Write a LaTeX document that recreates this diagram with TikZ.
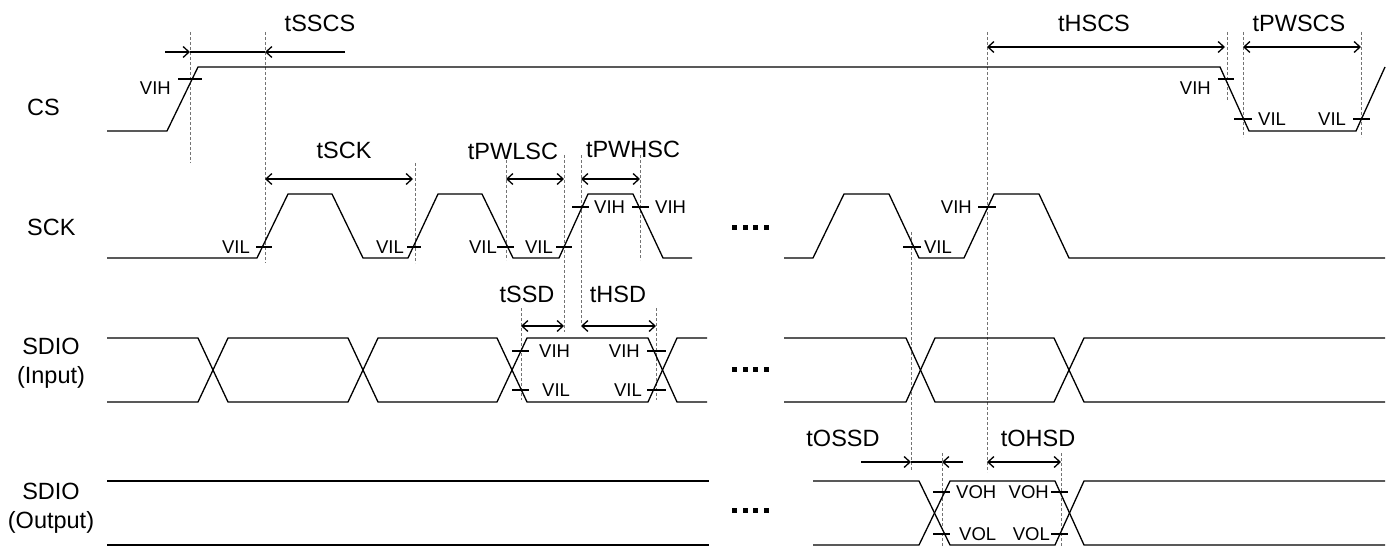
\documentclass[tikz,border=0pt]{standalone}
\usepackage{fontspec}
\setmainfont{Liberation Sans}
\usetikzlibrary{arrows.meta}
\begin{document}
\begin{tikzpicture}[x=1pt,y=-1pt,
        >={Straight Barb[length=6pt,width=11pt]},
        sig/.style={line width=1.3pt},
        guide/.style={black!55, line width=0.8pt, dash pattern=on 3pt off 2pt},
        lbl/.style={font=\fontsize{23.5}{29}\selectfont, inner sep=0pt},
        lvl/.style={font=\fontsize{18.5}{22}\selectfont, inner sep=0pt}]
        \useasboundingbox (0,0) rectangle (1392,548);

        % signal names
        \node[lbl, anchor=west] (cs) at (27,107) {CS};
        \node[lbl, anchor=west] (sck) at (27,227) {SCK};
        \node[lbl, align=center] (sdioin) at (51,363) {SDIO\\(Input)};
        \node[lbl, align=center] (sdioout) at (51,508) {SDIO\\(Output)};

        % guide lines
        \draw[guide] (190,32) -- (190,163);
        \draw[guide] (265,32) -- (265,263);
        \draw[guide] (415,163) -- (415,263);
        \draw[guide] (506,155) -- (506,260);
        \draw[guide] (564,155) -- (564,332);
        \draw[guide] (581,155) -- (581,323);
        \draw[guide] (640,155) -- (640,260);
        \draw[guide] (521,308) -- (521,400);
        \draw[guide] (656,308) -- (656,400);
        \draw[guide] (911,232) -- (911,470);
        \draw[guide] (942,453) -- (942,548);
        \draw[guide] (1061,453) -- (1061,548);
        \draw[guide] (987,32) -- (987,472);
        \draw[guide] (1227,32) -- (1227,100);
        \draw[guide] (1243,32) -- (1243,137);
        \draw[guide] (1361,32) -- (1361,137);

        % CS
        \draw[sig] (107,131) -- (167,131) -- (198,67) -- (1220,67) -- (1249,131) -- (1356,131) -- (1385,67);
        \draw[sig] (178,79) -- (202,79);
        \draw[sig] (1218,79) -- (1234,79);
        \draw[sig] (1234,119) -- (1252,119);
        \draw[sig] (1353,119) -- (1370,119);
        \node[lvl, anchor=east] (csvih) at (171,88) {VIH};
        \node[lvl, anchor=east] (csvihb) at (1211,88) {VIH};
        \node[lvl, anchor=west] (csvil) at (1258,119) {VIL};
        \node[lvl, anchor=west] (csvilb) at (1318,119) {VIL};

        % SCK
        \draw[sig] (107,258) -- (257,258) -- (288,194) -- (332,194) -- (363,258) -- (408,258) -- (438,194)
            -- (482,194) -- (513,258) -- (559,258) -- (588,194) -- (633,194) -- (663,258) -- (692,258);
        \draw[sig] (784,258) -- (813,258) -- (844,194) -- (889,194) -- (919,258) -- (964,258) -- (994,194)
            -- (1039,194) -- (1069,258) -- (1385,258);
        \draw[sig] (256,247) -- (272,247);
        \draw[sig] (407,247) -- (421,247);
        \draw[sig] (497,247) -- (514,247);
        \draw[sig] (556,247) -- (572,247);
        \draw[sig] (903,247) -- (921,247);
        \draw[sig] (572,207) -- (589,207);
        \draw[sig] (632,207) -- (649,207);
        \draw[sig] (978,207) -- (996,207);
        \node[lvl, anchor=east] (sckvil) at (250,247) {VIL};
        \node[lvl, anchor=east] (sckvilb) at (404,247) {VIL};
        \node[lvl, anchor=east] (sckvilc) at (497,247) {VIL};
        \node[lvl, anchor=east] (sckvild) at (553,247) {VIL};
        \node[lvl, anchor=east] (sckvile) at (952,247) {VIL};
        \node[lvl, anchor=west] (sckvih) at (594,207) {VIH};
        \node[lvl, anchor=west] (sckvihb) at (655,207) {VIH};
        \node[lvl, anchor=east] (sckvihc) at (972,207) {VIH};

        % SDIO (Input)
        \draw[sig] (107,338) -- (198,338) -- (228,402) -- (348,402) -- (378,338) -- (497,338) -- (527,402)
            -- (648,402) -- (677,338) -- (707,338);
        \draw[sig] (107,402) -- (198,402) -- (228,338) -- (348,338) -- (378,402) -- (497,402) -- (527,338)
            -- (648,338) -- (677,402) -- (707,402);
        \draw[sig] (784,338) -- (906,338) -- (935,402) -- (1054,402) -- (1084,338) -- (1385,338);
        \draw[sig] (784,402) -- (906,402) -- (935,338) -- (1054,338) -- (1084,402) -- (1385,402);
        \draw[sig] (512,351) -- (529,351);
        \draw[sig] (647,351) -- (666,351);
        \draw[sig] (512,390) -- (529,390);
        \draw[sig] (647,390) -- (666,390);
        \node[lvl, anchor=west] (invih) at (539,351) {VIH};
        \node[lvl, anchor=east] (invihb) at (640,351) {VIH};
        \node[lvl, anchor=west] (invil) at (542,390) {VIL};
        \node[lvl, anchor=east] (invilb) at (642,390) {VIL};

        % SDIO (Output)
        \draw[sig] (107,481) -- (709,481);
        \draw[sig] (107,545) -- (709,545);
        \draw[sig] (813,481) -- (919,481) -- (950,545) -- (1055,545) -- (1084,481) -- (1385,481);
        \draw[sig] (813,545) -- (919,545) -- (950,481) -- (1055,481) -- (1084,545) -- (1385,545);
        \draw[sig] (933,492) -- (950,492);
        \draw[sig] (1051,492) -- (1068,492);
        \draw[sig] (933,534) -- (950,534);
        \draw[sig] (1051,534) -- (1068,534);
        \node[lvl, anchor=west] (outvoh) at (956,492) {VOH};
        \node[lvl, anchor=east] (outvohb) at (1049,492) {VOH};
        \node[lvl, anchor=west] (outvol) at (959,534) {VOL};
        \node[lvl, anchor=east] (outvolb) at (1050,534) {VOL};

        % ....
        \foreach \y in {228,369,510}
            \foreach \i in {0,...,3}
                \fill (732+10.7*\i,\y-2.5) rectangle ++(5,5);

        % timings
        \draw[sig, ->] (165,52) -- (190,52);
        \draw[line width=2.3pt] (190,52) -- (265,52);
        \draw[sig, ->] (345,52) -- (265,52);
        \node[lbl] (tsscs) at (320,23) {tSSCS};

        \draw[sig, <->] (987,47) -- (1225,47);
        \node[lbl] (thscs) at (1094,23) {tHSCS};
        \draw[sig, <->] (1243,47) -- (1361,47);
        \node[lbl] (tpwscs) at (1299,23) {tPWSCS};

        \draw[sig, <->] (265,179) -- (413,179);
        \node[lbl] (tsck) at (344,150) {tSCK};
        \draw[sig, <->] (506,179) -- (564,179);
        \node[lbl] (tpwlsc) at (513,151) {tPWLSC};
        \draw[sig, <->] (581,179) -- (640,179);
        \node[lbl] (tpwhsc) at (633,149) {tPWHSC};

        \draw[sig, <->] (521,326) -- (564,326);
        \node[lbl] (tssd) at (527,294) {tSSD};
        \draw[sig, <->] (581,326) -- (656,326);
        \node[lbl] (thsd) at (618,294) {tHSD};

        \draw[sig, ->] (861,462) -- (911,462);
        \draw[line width=2.3pt] (911,462) -- (942,462);
        \draw[sig, ->] (963,462) -- (942,462);
        \node[lbl] (tossd) at (843,438) {tOSSD};
        \draw[sig, <->] (987,462) -- (1061,462);
        \node[lbl] (tohsd) at (1038,438) {tOHSD};
\end{tikzpicture}
\end{document}
